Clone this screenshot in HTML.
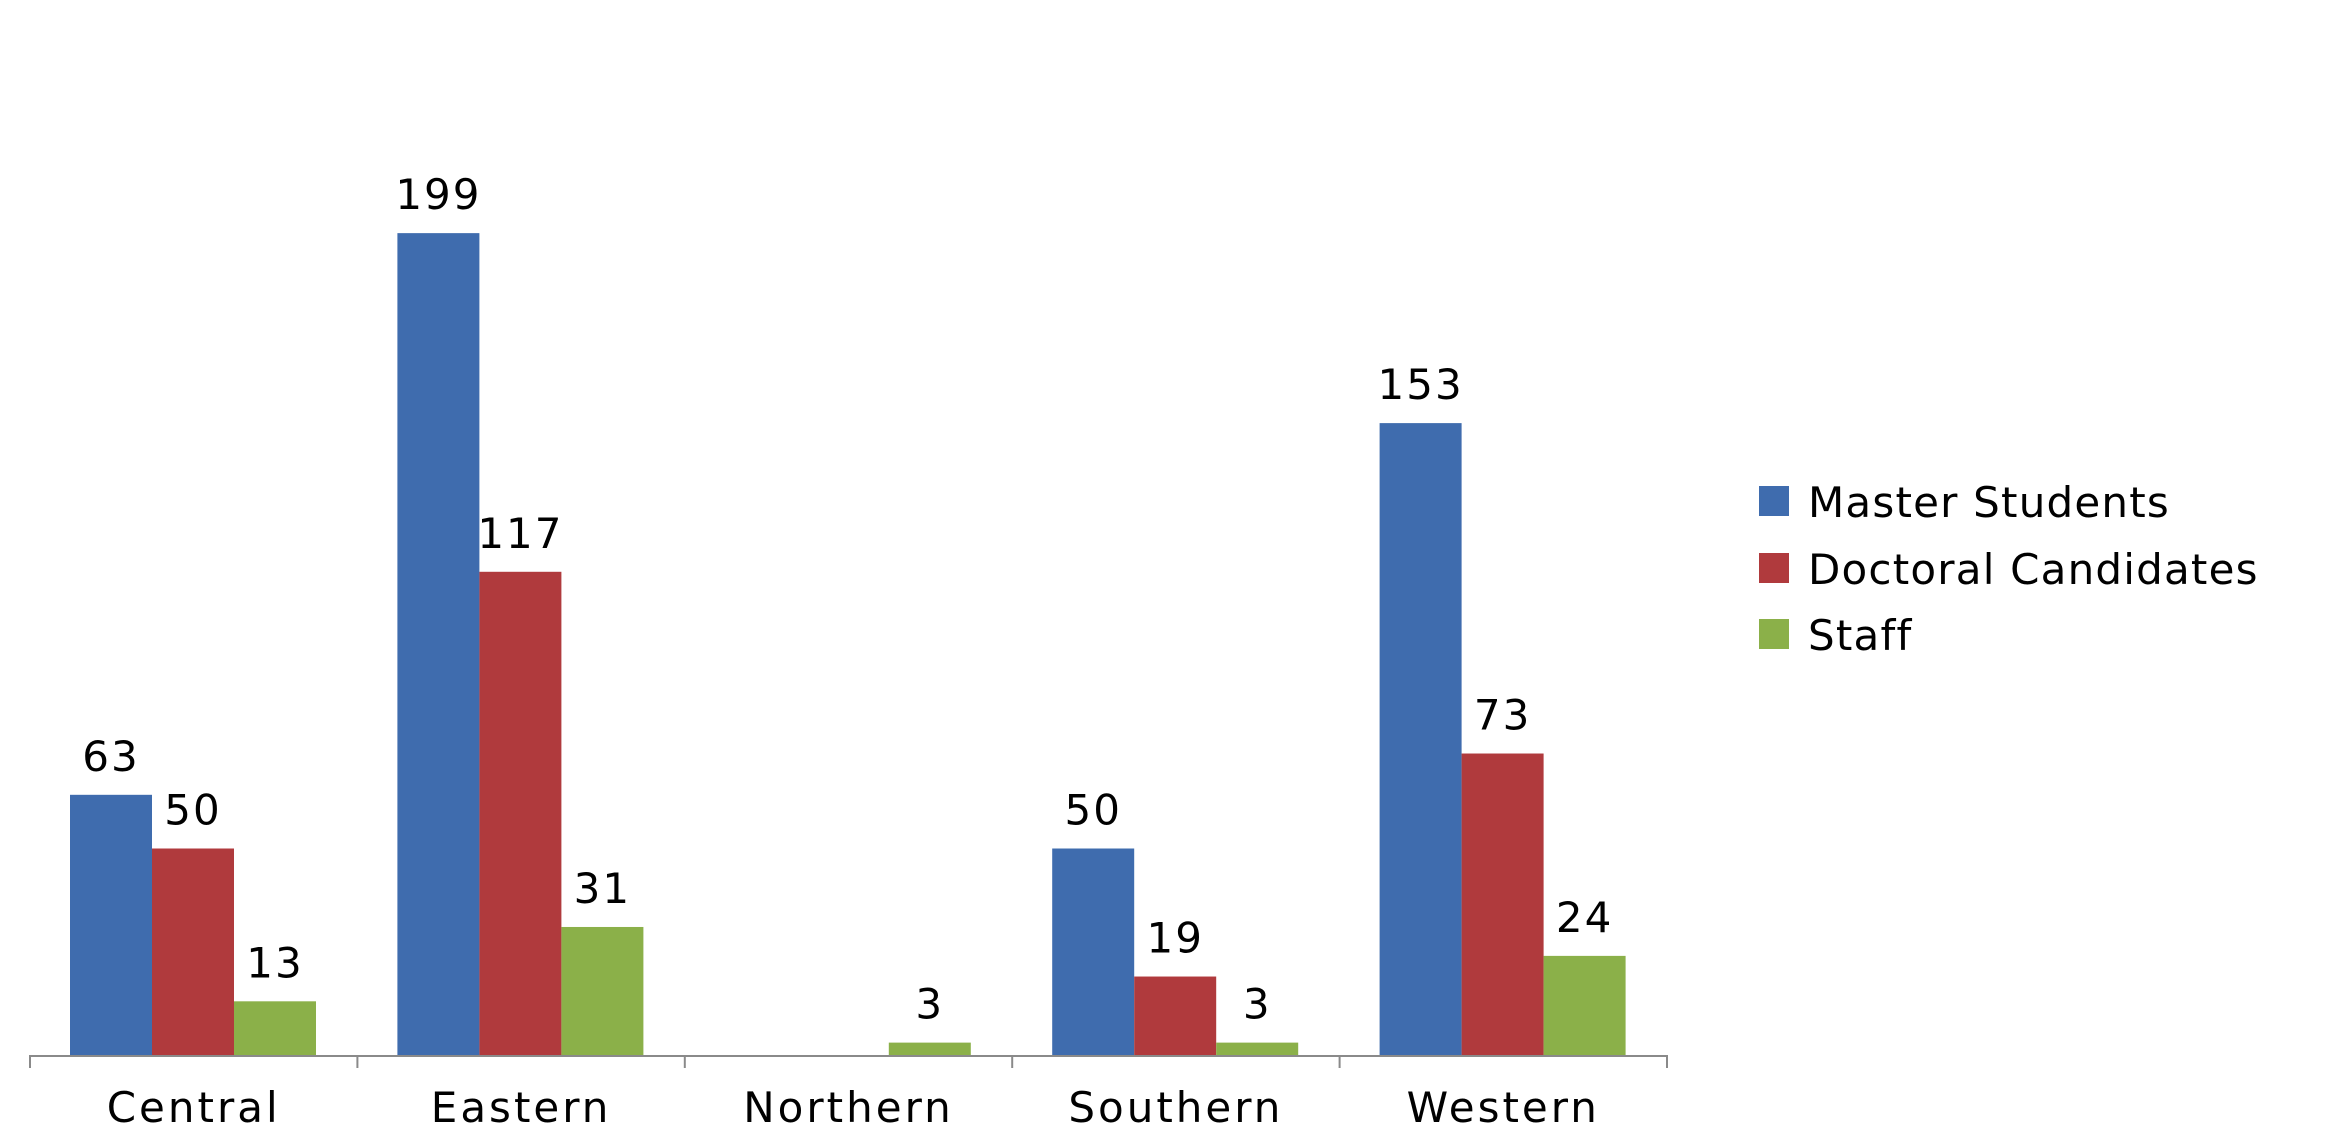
<!DOCTYPE html>
<html><head><meta charset="utf-8"><style>html,body{margin:0;padding:0;background:#fff}svg{display:block}</style></head>
<body>
<svg id="chart" width="2326" height="1134" xmlns="http://www.w3.org/2000/svg" font-family="'DejaVu Sans','Liberation Sans',sans-serif"></svg>
<script>
const categories = ["Central","Eastern","Northern","Southern","Western"];
const seriesNames = ["Master Students","Doctoral Candidates","Staff"];
const masterStudents = [63,199,0,50,153];
const doctoralCandidates = [50,117,0,19,73];
const staff = [13,31,3,3,24];
const series = [masterStudents, doctoralCandidates, staff];
const colors = ["#3f6cae","#b03a3d","#8bb049"];

const NS = "http://www.w3.org/2000/svg";
const svg = document.getElementById("chart");
const x0 = 30, x1 = 1667, y0 = 1055, pxPerUnit = 4.13;
const groupW = (x1 - x0) / categories.length;
const barW = 82, barOff = 40;
function yScale(v){ return y0 - v * pxPerUnit; }
function xBar(ci, si){ return x0 + ci * groupW + barOff + si * barW; }
function mk(tag, attrs){ const e = document.createElementNS(NS, tag); for (const k in attrs) e.setAttribute(k, attrs[k]); svg.appendChild(e); return e; }

series.forEach((vals, si) => {
  vals.forEach((v, ci) => {
    if (v > 0) {
      const r = mk("rect", {x: xBar(ci, si), y: yScale(v), width: barW, height: v * pxPerUnit, fill: colors[si]});
      
      
      const t = mk("text", {x: xBar(ci, si) + barW / 2, y: yScale(v) - 24, "text-anchor": "middle", "font-size": 42, "letter-spacing": 2, fill: "#000"});
      t.textContent = v;
      
      
    }
  });
});

const axis = mk("line", {x1: x0, y1: y0 + 1, x2: x1, y2: y0 + 1, stroke: "#8a8a8a", "stroke-width": 2});


for (let i = 0; i <= categories.length; i++) {
  const tx = x0 + i * groupW;
  const tk = mk("line", {x1: tx, y1: y0, x2: tx, y2: y0 + 13, stroke: "#8a8a8a", "stroke-width": 2});
  
  
}
categories.forEach((c, i) => {
  const t = mk("text", {x: x0 + (i + 0.5) * groupW, y: 1122, "text-anchor": "middle", "font-size": 42, "letter-spacing": 3, fill: "#000"});
  t.textContent = c;
  
  
});

const legendY = [501, 568, 634];
seriesNames.forEach((n, i) => {
  const s = mk("rect", {x: 1759, y: legendY[i] - 15, width: 30, height: 30, fill: colors[i]});
  
  
  const t = mk("text", {x: 1808, y: legendY[i] + 16, "font-size": 42, "letter-spacing": 1.2, fill: "#000"});
  t.textContent = n;
  
  
});
</script>
</body></html>
